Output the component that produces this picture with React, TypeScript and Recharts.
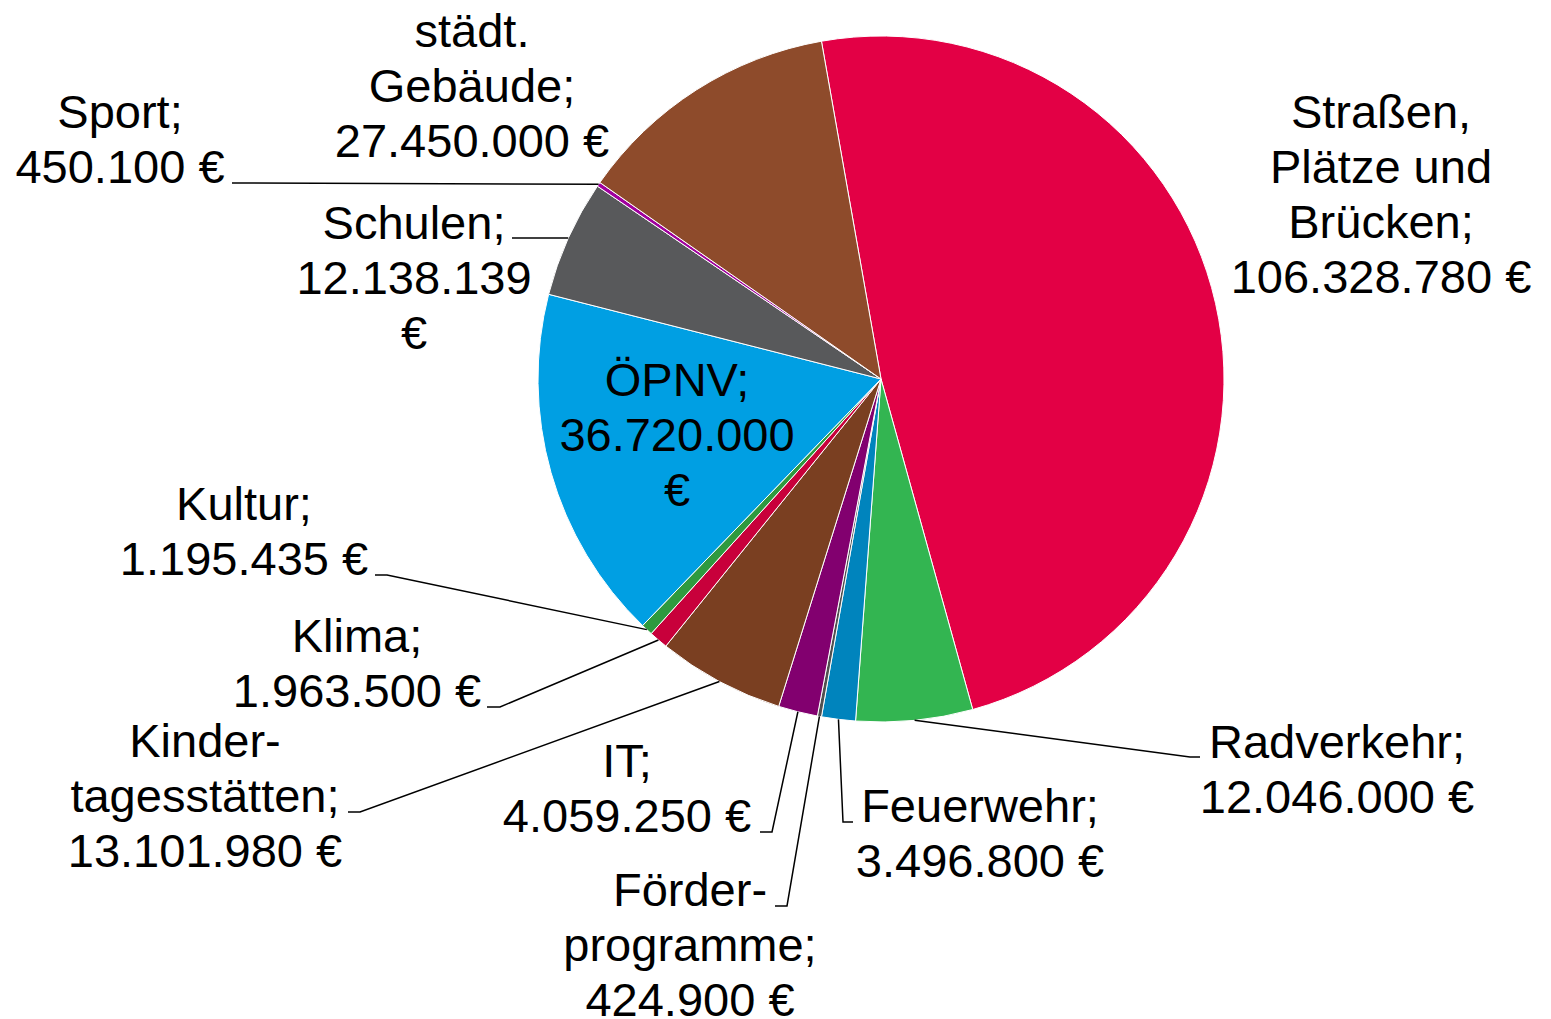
import React from "react";
import { PieChart, Pie, Cell } from "recharts";

// Investitionen nach Bereichen (Werte in Euro)
const categories = [
  "Straßen, Plätze und Brücken",
  "Radverkehr",
  "Feuerwehr",
  "Förderprogramme",
  "IT",
  "Kindertagesstätten",
  "Klima",
  "Kultur",
  "ÖPNV",
  "Schulen",
  "Sport",
  "städt. Gebäude",
];

const amounts = [
  106328780, 12046000, 3496800, 424900, 4059250, 13101980, 1963500, 1195435,
  36720000, 12138139, 450100, 27450000,
];

const sliceColors = [
  "#E30045",
  "#33B551",
  "#0084BD",
  "#505050",
  "#82006F",
  "#7A3F21",
  "#C8003B",
  "#2E9A3F",
  "#009FE3",
  "#58595B",
  "#A0009E",
  "#8E4B2B",
];

// how each label is broken into lines (name part, and whether the amount wraps before "€")
const nameLines: string[][] = [
  ["Straßen,", "Plätze und", "Brücken;"],
  ["Radverkehr;"],
  ["Feuerwehr;"],
  ["Förder-", "programme;"],
  ["IT;"],
  ["Kinder-", "tagesstätten;"],
  ["Klima;"],
  ["Kultur;"],
  ["ÖPNV;"],
  ["Schulen;"],
  ["Sport;"],
  ["städt.", "Gebäude;"],
];
const euroOnOwnLine = [false, false, false, false, false, false, false, false, true, true, false, false];

// label placement: centre x, first baseline y, leader start + elbow (null = no leader)
const labelPos: { x: number; y: number; lead: number[] | null }[] = [
  { x: 1381, y: 128, lead: null },
  { x: 1337, y: 758, lead: [1200, 757, 1190, 757] },
  { x: 980, y: 822, lead: [853, 822, 843, 822] },
  { x: 690, y: 906, lead: [775, 906, 787, 906] },
  { x: 627, y: 777, lead: [760, 832, 772, 832] },
  { x: 205, y: 757, lead: [348, 812, 360, 812] },
  { x: 357, y: 652, lead: [487, 707, 500, 707] },
  { x: 244, y: 520, lead: [375, 575, 387, 575] },
  { x: 677, y: 396, lead: null },
  { x: 414, y: 239, lead: [512, 238, 512, 238] },
  { x: 120, y: 128, lead: [232, 183, 232, 183] },
  { x: 472, y: 47, lead: null },
];

const data = categories.map((name, i) => ({ name, value: amounts[i] }));

const RADIAN = Math.PI / 180;
const fmt = (v: number) => String(v).replace(/\B(?=(\d{3})+(?!\d))/g, ".");

const renderLabel = (props: any) => {
  const { cx, cy, midAngle, outerRadius, index, value } = props;
  const pos = labelPos[index];
  const lines = [...nameLines[index]];
  if (euroOnOwnLine[index]) {
    lines.push(fmt(value), "€");
  } else {
    lines.push(fmt(value) + " €");
  }
  const px = cx + outerRadius * Math.cos(-midAngle * RADIAN);
  const py = cy + outerRadius * Math.sin(-midAngle * RADIAN);
  return (
    <g key={`lbl-${index}`}>
      {pos.lead && (
        <polyline
          points={`${pos.lead[0]},${pos.lead[1]} ${pos.lead[2]},${pos.lead[3]} ${px},${py}`}
          fill="none"
          stroke="#000"
          strokeWidth={1.5}
        />
      )}
      <text
        x={pos.x}
        y={pos.y}
        textAnchor="middle"
        fill="#000"
        fontSize={47}
        fontFamily="'Liberation Sans', Arial, sans-serif"
      >
        {lines.map((t, j) => (
          <tspan key={j} x={pos.x} dy={j === 0 ? 0 : 55}>
            {t}
          </tspan>
        ))}
      </text>
    </g>
  );
};

export default function App() {
  return (
    <div style={{ position: "absolute", left: 0, top: 0, background: "#fff" }}>
      <PieChart width={1551} height={1019} margin={{ top: 0, right: 0, bottom: 0, left: 0 }}>
        <Pie
          data={data}
          dataKey="value"
          nameKey="name"
          cx={881}
          cy={379}
          outerRadius={343}
          startAngle={100}
          endAngle={-260}
          stroke="#fff"
          strokeWidth={1}
          label={renderLabel}
          labelLine={false}
          isAnimationActive={false}
        >
          {data.map((d, i) => (
            <Cell key={d.name} fill={sliceColors[i]} />
          ))}
        </Pie>
      </PieChart>
    </div>
  );
}
